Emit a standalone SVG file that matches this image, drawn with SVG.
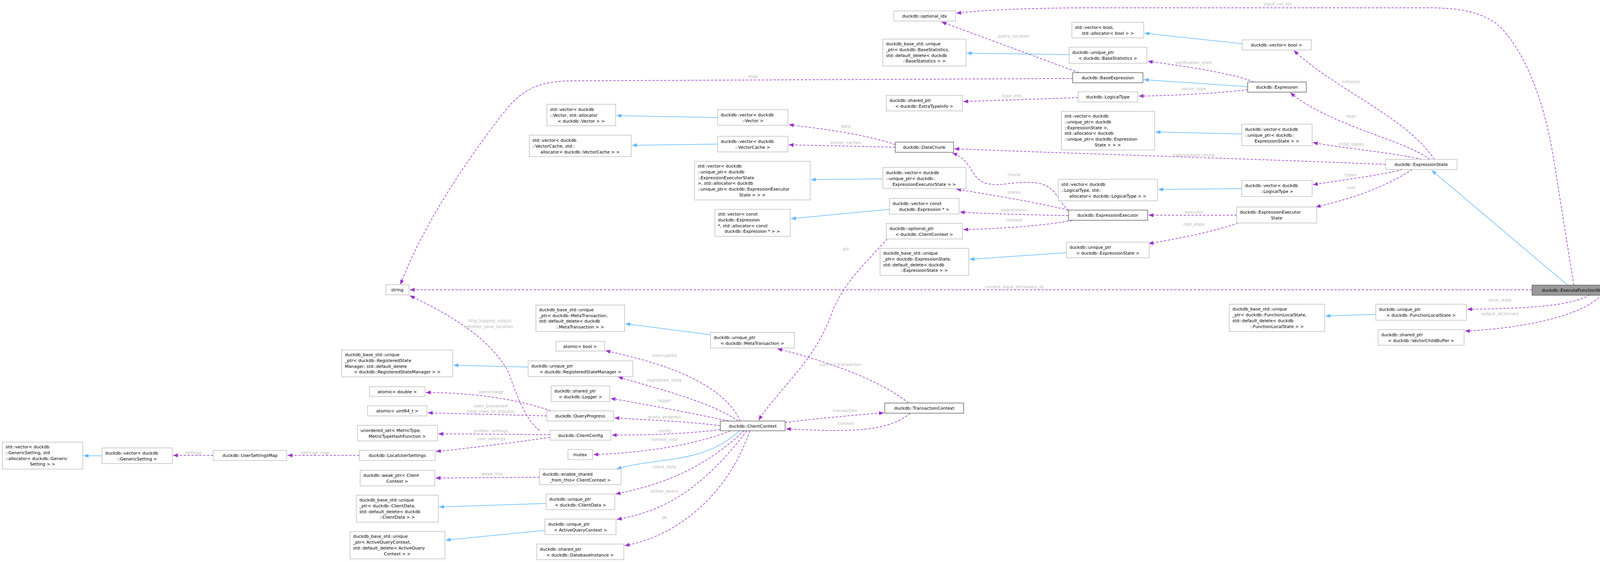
<svg xmlns="http://www.w3.org/2000/svg" width="4141" height="1439" viewBox="0 0 4141 1439">
<style>
.n rect{fill:#fff;stroke:#bfbfbf;stroke-width:1.5}
.d rect{stroke:#666}
.r rect{fill:#999;stroke:#666}
text{font-family:"DejaVu Sans","Liberation Sans",sans-serif;font-size:11px;fill:#000}
.c{text-anchor:middle}
.p{fill:none;stroke:#9a32cd;stroke-width:1.5;stroke-dasharray:6,4;marker-end:url(#pa)}
.b{fill:none;stroke:#63b8ff;stroke-width:1.5;marker-end:url(#ba)}
.l{fill:#b8b8b8;text-anchor:middle}
</style>
<defs>
<marker id="pa" viewBox="0 0 10 8" refX="10" refY="4" markerWidth="13" markerHeight="10" markerUnits="userSpaceOnUse" orient="auto"><path d="M0,0 L10,4 L0,8 z" fill="#9a32cd"/></marker>
<marker id="ba" viewBox="0 0 10 8" refX="10" refY="4" markerWidth="13" markerHeight="10" markerUnits="userSpaceOnUse" orient="auto"><path d="M0,0 L10,4 L0,8 z" fill="#63b8ff"/></marker>
</defs>
<rect width="4141" height="1439" fill="#fff"/>
<g id="edges">
<path class="b" d="M3181,112 L2930,85"/>
<path class="b" d="M2737,140 L2475,136"/>
<path class="b" d="M3194,222 L2928,204"/>
<path class="b" d="M1837,301 L1578,296"/>
<path class="b" d="M1837,369 L1618,372"/>
<path class="b" d="M3179,343 L2958,338"/>
<path class="b" d="M2260,458 L2076,460"/>
<path class="b" d="M2277,536 L2025,560"/>
<path class="b" d="M3179,483 L2965,485"/>
<path class="b" d="M2730,647 L2482,664"/>
<path class="b" d="M1819,857 L1601,829"/>
<path class="b" d="M1352,940 L1161,935"/>
<path class="b" d="M1893,1103 C1800,1190 1680,1170 1578,1201"/>
<path class="b" d="M1398,1289 L1124,1298"/>
<path class="b" d="M1395,1358 L1141,1383"/>
<path class="b" d="M261,1167 L214,1167"/>
<path class="b" d="M3522,805 L3393,809"/>
<path class="b" d="M4013,730 L3665,436"/>
<path class="p" d="M4029,730 L3975,393 C3950,250 3900,120 3830,60 C3780,25 3720,20 3651,20 L2800,20 C2650,20 2520,25 2448,34"/>
<text class="l" x="3271" y="14">input_col_idx</text>
<path class="p" d="M2746,201 L1465,207 C1380,207 1340,230 1300,275 C1200,400 1080,580 1025,729"/>
<text class="l" x="1928" y="199">alias</text>
<path class="p" d="M2762,186 L2410,56"/>
<text class="l" x="2595" y="96">query_location</text>
<path class="p" d="M3210,210 C3150,185 3000,165 2938,157"/>
<text class="l" x="3056" y="164">verification_stats</text>
<path class="p" d="M3194,230 C3100,240 3000,245 2915,246"/>
<text class="l" x="3056" y="231">return_type</text>
<path class="p" d="M2760,250 L2466,260"/>
<text class="l" x="2593" y="249">type_info_</text>
<path class="p" d="M3672,408 C3600,300 3420,230 3312,129"/>
<text class="l" x="3458" y="213">initialize</text>
<path class="p" d="M3660,408 C3600,360 3400,320 3303,237"/>
<text class="l" x="3459" y="301">expr</text>
<path class="p" d="M3640,408 C3560,390 3440,380 3361,365"/>
<text class="l" x="3459" y="373">child_states</text>
<path class="p" d="M3547,421 C3300,410 2800,395 2443,381"/>
<text class="l" x="3056" y="401">intermediate_chunk</text>
<path class="p" d="M3590,434 C3530,450 3440,460 3361,473"/>
<text class="l" x="3458" y="451">types</text>
<path class="p" d="M3615,434 C3560,470 3480,505 3368,530"/>
<text class="l" x="3459" y="484">root</text>
<path class="p" d="M3166,551 L2940,551"/>
<text class="l" x="3057" y="547">executor</text>
<path class="p" d="M3170,571 C3100,595 3020,610 2940,624"/>
<text class="l" x="3057" y="578">root_state</text>
<path class="p" d="M2735,540 C2700,500 2700,470 2640,467 C2580,465 2560,480 2520,468 C2480,450 2490,410 2438,392"/>
<text class="l" x="2596" y="451">chunk</text>
<path class="p" d="M2735,538 C2640,515 2540,500 2448,484"/>
<text class="l" x="2596" y="496">states</text>
<path class="p" d="M2735,552 C2640,550 2540,548 2457,543"/>
<text class="l" x="2596" y="541">expressions</text>
<path class="p" d="M2755,563 C2660,580 2560,585 2466,588"/>
<text class="l" x="2596" y="567">context</text>
<path class="p" d="M2292,370 C2200,340 2100,330 2019,319"/>
<text class="l" x="2165" y="327">data</text>
<path class="p" d="M2292,377 C2200,375 2100,372 2019,371"/>
<text class="l" x="2165" y="369">vector_caches</text>
<path class="p" d="M2271,612 C2230,660 2160,720 2130,800 C2090,920 1990,1000 1942,1076"/>
<text class="l" x="2166" y="641">ptr</text>
<path class="p" d="M3922,742 L1049,742"/>
<text class="l" x="2596" y="738">current_input_dictionary_id</text>
<path class="p" d="M4070,755 C4020,785 3900,790 3756,792"/>
<text class="l" x="3840" y="772">local_state</text>
<path class="p" d="M4100,755 C4050,810 3900,840 3750,848"/>
<text class="l" x="3840" y="807">output_dictionary</text>
<path class="p" d="M2326,1032 C2250,970 2100,920 1990,893"/>
<text class="l" x="2152" y="937">current_transaction</text>
<path class="p" d="M2010,1082 C2100,1070 2200,1062 2263,1057"/>
<text class="l" x="2163" y="1055">transaction</text>
<path class="p" d="M2330,1058 C2270,1110 2150,1105 2012,1098"/>
<text class="l" x="2165" y="1088">context</text>
<path class="p" d="M1895,1078 C1850,980 1700,930 1550,898"/>
<text class="l" x="1701" y="914">interrupted</text>
<path class="p" d="M1890,1078 C1820,1030 1700,1000 1582,965"/>
<text class="l" x="1701" y="977">registered_state</text>
<path class="p" d="M1866,1078 C1780,1060 1680,1040 1563,1020"/>
<text class="l" x="1701" y="1029">logger</text>
<path class="p" d="M1844,1090 C1750,1078 1650,1075 1573,1070"/>
<text class="l" x="1701" y="1071">query_progress</text>
<path class="p" d="M1844,1100 C1750,1112 1650,1114 1566,1114"/>
<text class="l" x="1701" y="1107">config</text>
<path class="p" d="M1870,1103 C1780,1140 1640,1160 1519,1164"/>
<text class="l" x="1701" y="1129">context_lock</text>
<path class="p" d="M1905,1103 C1800,1200 1700,1240 1576,1265"/>
<text class="l" x="1701" y="1199">client_data</text>
<path class="p" d="M1912,1103 C1800,1250 1700,1310 1579,1330"/>
<text class="l" x="1701" y="1261">active_query</text>
<path class="p" d="M1920,1103 C1850,1300 1700,1380 1599,1397"/>
<text class="l" x="1701" y="1329">db</text>
<path class="p" d="M1410,1052 C1320,1020 1200,1005 1090,1005"/>
<text class="l" x="1257" y="1007">percentage</text>
<path class="p" d="M1400,1065 C1300,1062 1200,1060 1095,1057"/>
<text class="l" x="1256" y="1043">rows_processed</text>
<text class="l" x="1256" y="1057">total_rows_to_process</text>
<path class="p" d="M1381,1102 C1340,1070 1320,1000 1300,950 C1250,860 1140,800 1049,757"/>
<text class="l" x="1254" y="825">http_logging_output</text>
<text class="l" x="1254" y="840">profiler_save_location</text>
<path class="p" d="M1408,1113 C1300,1112 1200,1111 1122,1111"/>
<text class="l" x="1257" y="1107">profiler_settings</text>
<path class="p" d="M1408,1120 C1300,1135 1200,1148 1116,1156"/>
<text class="l" x="1257" y="1127">user_settings</text>
<path class="p" d="M920,1166 L736,1166"/>
<text class="l" x="807" y="1163">settings_map</text>
<path class="p" d="M546,1166 L443,1166"/>
<text class="l" x="495" y="1163">settings</text>
<path class="p" d="M1381,1222 L1115,1224"/>
<text class="l" x="1260" y="1217">_weak_this_</text>
</g>
<g id="n1" class="n"><rect x="2288" y="28" width="158" height="26"/><text class="c" x="2367" y="45">duckdb::optional_idx</text></g>
<g id="n2" class="n"><rect x="2744" y="57" width="184" height="40"/><text x="2752" y="74">std::vector&lt; bool,</text><text class="c" x="2836" y="89">std::allocator&lt; bool &gt; &gt;</text></g>
<g id="n3" class="n"><rect x="3180" y="102" width="177" height="26"/><text class="c" x="3268" y="119">duckdb::vector&lt; bool &gt;</text></g>
<g id="n4" class="n"><rect x="2260" y="100" width="213" height="69"/><text x="2268" y="116">duckdb_base_std::unique</text><text x="2268" y="131">_ptr&lt; duckdb::BaseStatistics,</text><text x="2268" y="146">std::default_delete&lt; duckdb</text><text class="c" x="2366" y="160">::BaseStatistics &gt; &gt;</text></g>
<g id="n5" class="n"><rect x="2737" y="121" width="199" height="41"/><text x="2745" y="138">duckdb::unique_ptr</text><text class="c" x="2836" y="153">&lt; duckdb::BaseStatistics &gt;</text></g>
<g id="n6" class="n d"><rect x="2746" y="186" width="180" height="26"/><text class="c" x="2836" y="203">duckdb::BaseExpression</text></g>
<g id="n7" class="n d"><rect x="3194" y="210" width="150" height="26"/><text class="c" x="3269" y="227">duckdb::Expression</text></g>
<g id="n8" class="n"><rect x="2760" y="235" width="153" height="26"/><text class="c" x="2836" y="252">duckdb::LogicalType</text></g>
<g id="n9" class="n"><rect x="2269" y="244" width="195" height="40"/><text x="2277" y="261">duckdb::shared_ptr</text><text class="c" x="2366" y="276">&lt; duckdb::ExtraTypeInfo &gt;</text></g>
<g id="n10" class="n"><rect x="2717" y="285" width="239" height="99"/><text x="2725" y="301">std::vector&lt; duckdb</text><text x="2725" y="316">::unique_ptr&lt; duckdb</text><text x="2725" y="331">::ExpressionState &gt;,</text><text x="2725" y="345">std::allocator&lt; duckdb</text><text x="2725" y="360">::unique_ptr&lt; duckdb::Expression</text><text class="c" x="2836" y="375">State &gt; &gt; &gt;</text></g>
<g id="n11" class="n"><rect x="3179" y="318" width="180" height="55"/><text x="3187" y="335">duckdb::vector&lt; duckdb</text><text x="3187" y="350">::unique_ptr&lt; duckdb::</text><text class="c" x="3269" y="365">ExpressionState &gt; &gt;</text></g>
<g id="n12" class="n d"><rect x="2292" y="364" width="149" height="26"/><text class="c" x="2366" y="381">duckdb::DataChunk</text></g>
<g id="n13" class="n"><rect x="1400" y="267" width="176" height="55"/><text x="1408" y="284">std::vector&lt; duckdb</text><text x="1408" y="299">::Vector, std::allocator</text><text class="c" x="1488" y="314">&lt; duckdb::Vector &gt; &gt;</text></g>
<g id="n14" class="n"><rect x="1837" y="281" width="180" height="40"/><text x="1845" y="298">duckdb::vector&lt; duckdb</text><text class="c" x="1927" y="313">::Vector &gt;</text></g>
<g id="n15" class="n"><rect x="1355" y="346" width="261" height="55"/><text x="1363" y="363">std::vector&lt; duckdb</text><text x="1363" y="378">::VectorCache, std::</text><text class="c" x="1485" y="393">allocator&lt; duckdb::VectorCache &gt; &gt;</text></g>
<g id="n16" class="n"><rect x="1837" y="349" width="180" height="40"/><text x="1845" y="366">duckdb::vector&lt; duckdb</text><text class="c" x="1927" y="381">::VectorCache &gt;</text></g>
<g id="n17" class="n"><rect x="3547" y="408" width="183" height="26"/><text class="c" x="3638" y="425">duckdb::ExpressionState</text></g>
<g id="n18" class="n"><rect x="1778" y="413" width="296" height="99"/><text x="1786" y="429">std::vector&lt; duckdb</text><text x="1786" y="444">::unique_ptr&lt; duckdb</text><text x="1786" y="459">::ExpressionExecutorState</text><text x="1786" y="473"> &gt;, std::allocator&lt; duckdb</text><text x="1786" y="488">::unique_ptr&lt; duckdb::ExpressionExecutor</text><text class="c" x="1926" y="503">State &gt; &gt; &gt;</text></g>
<g id="n19" class="n"><rect x="2260" y="429" width="213" height="54"/><text x="2268" y="446">duckdb::vector&lt; duckdb</text><text x="2268" y="461">::unique_ptr&lt; duckdb::</text><text class="c" x="2366" y="476">ExpressionExecutorState &gt; &gt;</text></g>
<g id="n20" class="n"><rect x="2709" y="459" width="254" height="55"/><text x="2717" y="476">std::vector&lt; duckdb</text><text x="2717" y="491">::LogicalType, std::</text><text class="c" x="2836" y="506">allocator&lt; duckdb::LogicalType &gt; &gt;</text></g>
<g id="n21" class="n"><rect x="3179" y="462" width="180" height="41"/><text x="3187" y="479">duckdb::vector&lt; duckdb</text><text class="c" x="3269" y="494">::LogicalType &gt;</text></g>
<g id="n22" class="n"><rect x="2277" y="508" width="178" height="40"/><text x="2285" y="525">duckdb::vector&lt; const</text><text class="c" x="2366" y="540">duckdb::Expression * &gt;</text></g>
<g id="n23" class="n"><rect x="1830" y="536" width="193" height="69"/><text x="1838" y="552">std::vector&lt; const</text><text x="1838" y="567"> duckdb::Expression</text><text x="1838" y="582">*, std::allocator&lt; const</text><text class="c" x="1926" y="596">duckdb::Expression * &gt; &gt;</text></g>
<g id="n24" class="n d"><rect x="2735" y="538" width="203" height="26"/><text class="c" x="2836" y="555">duckdb::ExpressionExecutor</text></g>
<g id="n25" class="n"><rect x="3166" y="530" width="205" height="41"/><text x="3174" y="547">duckdb::ExpressionExecutor</text><text class="c" x="3268" y="562">State</text></g>
<g id="n26" class="n"><rect x="2269" y="572" width="195" height="40"/><text x="2277" y="589">duckdb::optional_ptr</text><text class="c" x="2366" y="604">&lt; duckdb::ClientContext &gt;</text></g>
<g id="n27" class="n"><rect x="2730" y="620" width="212" height="40"/><text x="2738" y="637">duckdb::unique_ptr</text><text class="c" x="2836" y="652">&lt; duckdb::ExpressionState &gt;</text></g>
<g id="n28" class="n"><rect x="2253" y="636" width="227" height="69"/><text x="2261" y="652">duckdb_base_std::unique</text><text x="2261" y="667">_ptr&lt; duckdb::ExpressionState,</text><text x="2261" y="682">std::default_delete&lt; duckdb</text><text class="c" x="2366" y="696">::ExpressionState &gt; &gt;</text></g>
<g id="n29" class="n"><rect x="988" y="729" width="59" height="26"/><text class="c" x="1017" y="746">string</text></g>
<g id="n30" class="n r"><rect x="3922" y="730" width="218" height="26"/><text class="c" x="4031" y="747">duckdb::ExecuteFunctionState</text></g>
<g id="n31" class="n"><rect x="3147" y="779" width="244" height="70"/><text x="3155" y="795">duckdb_base_std::unique</text><text x="3155" y="810">_ptr&lt; duckdb::FunctionLocalState,</text><text x="3155" y="825">std::default_delete&lt; duckdb</text><text class="c" x="3269" y="840">::FunctionLocalState &gt; &gt;</text></g>
<g id="n32" class="n"><rect x="3522" y="779" width="232" height="41"/><text x="3530" y="796">duckdb::unique_ptr</text><text class="c" x="3638" y="811">&lt; duckdb::FunctionLocalState &gt;</text></g>
<g id="n33" class="n"><rect x="3528" y="844" width="220" height="40"/><text x="3536" y="861">duckdb::shared_ptr</text><text class="c" x="3638" y="876">&lt; duckdb::VectorChildBuffer &gt;</text></g>
<g id="n34" class="n"><rect x="1372" y="781" width="227" height="68"/><text x="1380" y="797">duckdb_base_std::unique</text><text x="1380" y="812">_ptr&lt; duckdb::MetaTransaction,</text><text x="1380" y="826">std::default_delete&lt; duckdb</text><text class="c" x="1485" y="841">::MetaTransaction &gt; &gt;</text></g>
<g id="n35" class="n"><rect x="1819" y="851" width="215" height="40"/><text x="1827" y="868">duckdb::unique_ptr</text><text class="c" x="1926" y="883">&lt; duckdb::MetaTransaction &gt;</text></g>
<g id="n36" class="n"><rect x="1423" y="874" width="125" height="25"/><text class="c" x="1485" y="891">atomic&lt; bool &gt;</text></g>
<g id="n37" class="n"><rect x="875" y="896" width="284" height="69"/><text x="883" y="912">duckdb_base_std::unique</text><text x="883" y="927">_ptr&lt; duckdb::RegisteredState</text><text x="883" y="942">Manager, std::default_delete</text><text class="c" x="1017" y="956">&lt; duckdb::RegisteredStateManager &gt; &gt;</text></g>
<g id="n38" class="n"><rect x="1352" y="924" width="268" height="40"/><text x="1360" y="941">duckdb::unique_ptr</text><text class="c" x="1486" y="956">&lt; duckdb::RegisteredStateManager &gt;</text></g>
<g id="n39" class="n"><rect x="1411" y="988" width="150" height="40"/><text x="1419" y="1005">duckdb::shared_ptr</text><text class="c" x="1486" y="1020">&lt; duckdb::Logger &gt;</text></g>
<g id="n40" class="n"><rect x="946" y="990" width="142" height="25"/><text class="c" x="1017" y="1007">atomic&lt; double &gt;</text></g>
<g id="n41" class="n d"><rect x="2265" y="1032" width="202" height="26"/><text class="c" x="2366" y="1049">duckdb::TransactionContext</text></g>
<g id="n42" class="n"><rect x="941" y="1039" width="152" height="26"/><text class="c" x="1017" y="1056">atomic&lt; uint64_t &gt;</text></g>
<g id="n43" class="n"><rect x="1400" y="1052" width="171" height="26"/><text class="c" x="1485" y="1069">duckdb::QueryProgress</text></g>
<g id="n44" class="n d"><rect x="1844" y="1078" width="166" height="25"/><text class="c" x="1927" y="1095">duckdb::ClientContext</text></g>
<g id="n45" class="n"><rect x="915" y="1089" width="205" height="40"/><text x="923" y="1106">unordered_set&lt; MetricType,</text><text class="c" x="1017" y="1121">MetricTypeHashFunction &gt;</text></g>
<g id="n46" class="n"><rect x="1408" y="1102" width="156" height="25"/><text class="c" x="1486" y="1119">duckdb::ClientConfig</text></g>
<g id="n47" class="n"><rect x="6" y="1132" width="206" height="69"/><text x="14" y="1148">std::vector&lt; duckdb</text><text x="14" y="1163">::GenericSetting, std</text><text x="14" y="1178">::allocator&lt; duckdb::Generic</text><text class="c" x="109" y="1192">Setting &gt; &gt;</text></g>
<g id="n48" class="n"><rect x="261" y="1147" width="180" height="40"/><text x="269" y="1164">duckdb::vector&lt; duckdb</text><text class="c" x="351" y="1179">::GenericSetting &gt;</text></g>
<g id="n49" class="n"><rect x="546" y="1153" width="188" height="26"/><text class="c" x="640" y="1170">duckdb::UserSettingsMap</text></g>
<g id="n50" class="n"><rect x="920" y="1153" width="194" height="26"/><text class="c" x="1017" y="1170">duckdb::LocalUserSettings</text></g>
<g id="n51" class="n"><rect x="1454" y="1151" width="63" height="26"/><text class="c" x="1485" y="1168">mutex</text></g>
<g id="n52" class="n"><rect x="922" y="1204" width="191" height="40"/><text x="930" y="1221">duckdb::weak_ptr&lt; Client</text><text class="c" x="1017" y="1236">Context &gt;</text></g>
<g id="n53" class="n"><rect x="1381" y="1201" width="209" height="40"/><text x="1389" y="1218">duckdb::enable_shared</text><text class="c" x="1485" y="1233">_from_this&lt; ClientContext &gt;</text></g>
<g id="n54" class="n"><rect x="912" y="1268" width="210" height="69"/><text x="920" y="1284">duckdb_base_std::unique</text><text x="920" y="1299">_ptr&lt; duckdb::ClientData,</text><text x="920" y="1314">std::default_delete&lt; duckdb</text><text class="c" x="1017" y="1328">::ClientData &gt; &gt;</text></g>
<g id="n55" class="n"><rect x="1398" y="1265" width="176" height="40"/><text x="1406" y="1282">duckdb::unique_ptr</text><text class="c" x="1486" y="1297">&lt; duckdb::ClientData &gt;</text></g>
<g id="n56" class="n"><rect x="1395" y="1329" width="182" height="40"/><text x="1403" y="1346">duckdb::unique_ptr</text><text class="c" x="1486" y="1361">&lt; ActiveQueryContext &gt;</text></g>
<g id="n57" class="n"><rect x="896" y="1361" width="243" height="70"/><text x="904" y="1377">duckdb_base_std::unique</text><text x="904" y="1392">_ptr&lt; ActiveQueryContext,</text><text x="904" y="1407">std::default_delete&lt; ActiveQuery</text><text class="c" x="1017" y="1422">Context &gt; &gt;</text></g>
<g id="n58" class="n"><rect x="1374" y="1393" width="223" height="40"/><text x="1382" y="1410">duckdb::shared_ptr</text><text class="c" x="1485" y="1425">&lt; duckdb::DatabaseInstance &gt;</text></g>
</svg>
